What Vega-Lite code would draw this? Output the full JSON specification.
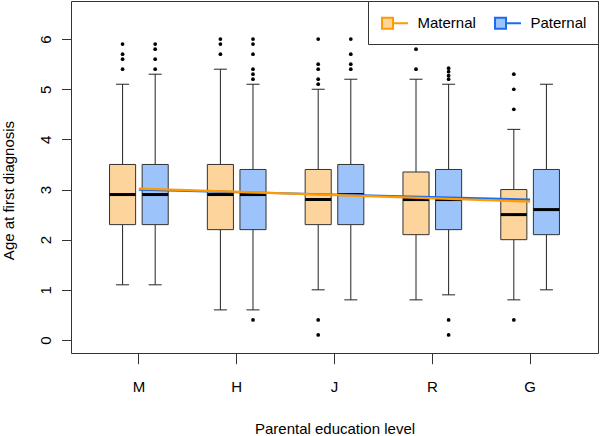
{
  "$schema": "https://vega.github.io/schema/vega-lite/v6.json",
  "width": 527,
  "height": 352,
  "autosize": {"type": "none"},
  "padding": {"left": 71, "top": 1, "right": 2, "bottom": 83},
  "background": "white",
  "config": {
    "font": "Liberation Sans",
    "view": {"stroke": "#333", "strokeWidth": 1},
    "axis": {
      "grid": false,
      "domain": false,
      "tickColor": "#333",
      "labelFontSize": 15,
      "labelColor": "black",
      "titleFontSize": 15,
      "titleFontWeight": "normal",
      "titleColor": "black"
    },
    "legend": {
      "orient": "top-right",
      "offset": 0,
      "direction": "horizontal",
      "padding": 11,
      "strokeColor": "#333",
      "fillColor": "white",
      "labelFontSize": 15,
      "labelColor": "black",
      "labelOffset": 16.5,
      "columnPadding": 15,
      "symbolType": "M-0.8,-0.55H0.3V0.55H-0.8Z M0.3,0H1.8",
      "symbolSize": 400,
      "symbolStrokeWidth": 2,
      "symbolOpacity": 1
    }
  },
  "datasets": {
    "boxes": [
      {"edu": "M", "parent": "Maternal", "lower": 1.1, "q1": 2.3, "median": 2.9, "q3": 3.5, "upper": 5.1},
      {"edu": "M", "parent": "Paternal", "lower": 1.1, "q1": 2.3, "median": 2.9, "q3": 3.5, "upper": 5.3},
      {"edu": "H", "parent": "Maternal", "lower": 0.6, "q1": 2.2, "median": 2.9, "q3": 3.5, "upper": 5.4},
      {"edu": "H", "parent": "Paternal", "lower": 0.6, "q1": 2.2, "median": 2.9, "q3": 3.4, "upper": 5.1},
      {"edu": "J", "parent": "Maternal", "lower": 1.0, "q1": 2.3, "median": 2.8, "q3": 3.4, "upper": 5.0},
      {"edu": "J", "parent": "Paternal", "lower": 0.8, "q1": 2.3, "median": 2.9, "q3": 3.5, "upper": 5.2},
      {"edu": "R", "parent": "Maternal", "lower": 0.8, "q1": 2.1, "median": 2.8, "q3": 3.35, "upper": 5.2},
      {"edu": "R", "parent": "Paternal", "lower": 0.9, "q1": 2.2, "median": 2.8, "q3": 3.4, "upper": 5.1},
      {"edu": "G", "parent": "Maternal", "lower": 0.8, "q1": 2.0, "median": 2.5, "q3": 3.0, "upper": 4.2},
      {"edu": "G", "parent": "Paternal", "lower": 1.0, "q1": 2.1, "median": 2.6, "q3": 3.4, "upper": 5.1}
    ],
    "outliers": [
      {"edu": "M", "parent": "Maternal", "value": 5.9},
      {"edu": "M", "parent": "Maternal", "value": 5.7},
      {"edu": "M", "parent": "Maternal", "value": 5.6},
      {"edu": "M", "parent": "Maternal", "value": 5.4},
      {"edu": "M", "parent": "Paternal", "value": 5.9},
      {"edu": "M", "parent": "Paternal", "value": 5.8},
      {"edu": "M", "parent": "Paternal", "value": 5.6},
      {"edu": "M", "parent": "Paternal", "value": 5.4},
      {"edu": "H", "parent": "Maternal", "value": 6.0},
      {"edu": "H", "parent": "Maternal", "value": 5.9},
      {"edu": "H", "parent": "Maternal", "value": 5.7},
      {"edu": "H", "parent": "Paternal", "value": 6.0},
      {"edu": "H", "parent": "Paternal", "value": 5.9},
      {"edu": "H", "parent": "Paternal", "value": 5.7},
      {"edu": "H", "parent": "Paternal", "value": 5.4},
      {"edu": "H", "parent": "Paternal", "value": 5.3},
      {"edu": "H", "parent": "Paternal", "value": 5.2},
      {"edu": "H", "parent": "Paternal", "value": 0.4},
      {"edu": "J", "parent": "Maternal", "value": 6.0},
      {"edu": "J", "parent": "Maternal", "value": 5.5},
      {"edu": "J", "parent": "Maternal", "value": 5.4},
      {"edu": "J", "parent": "Maternal", "value": 5.2},
      {"edu": "J", "parent": "Maternal", "value": 5.1},
      {"edu": "J", "parent": "Maternal", "value": 0.4},
      {"edu": "J", "parent": "Maternal", "value": 0.1},
      {"edu": "J", "parent": "Paternal", "value": 6.0},
      {"edu": "J", "parent": "Paternal", "value": 5.7},
      {"edu": "J", "parent": "Paternal", "value": 5.5},
      {"edu": "J", "parent": "Paternal", "value": 5.4},
      {"edu": "R", "parent": "Maternal", "value": 5.8},
      {"edu": "R", "parent": "Maternal", "value": 5.4},
      {"edu": "R", "parent": "Paternal", "value": 5.42},
      {"edu": "R", "parent": "Paternal", "value": 5.35},
      {"edu": "R", "parent": "Paternal", "value": 5.27},
      {"edu": "R", "parent": "Paternal", "value": 5.2},
      {"edu": "R", "parent": "Paternal", "value": 0.4},
      {"edu": "R", "parent": "Paternal", "value": 0.1},
      {"edu": "G", "parent": "Maternal", "value": 5.3},
      {"edu": "G", "parent": "Maternal", "value": 5.0},
      {"edu": "G", "parent": "Maternal", "value": 4.6},
      {"edu": "G", "parent": "Maternal", "value": 0.4}
    ],
    "fits": [
      {"edu": "M", "parent": "Maternal", "fit": 3.02},
      {"edu": "G", "parent": "Maternal", "fit": 2.76},
      {"edu": "M", "parent": "Paternal", "fit": 3.0},
      {"edu": "G", "parent": "Paternal", "fit": 2.8}
    ]
  },
  "encoding": {
    "x": {
      "field": "edu",
      "type": "nominal",
      "sort": ["M", "H", "J", "R", "G"],
      "scale": {"domain": ["M", "H", "J", "R", "G"], "paddingInner": 0, "paddingOuter": 0.194},
      "title": "Parental education level",
      "axis": {"labelAngle": 0, "tickSize": 10.7, "labelPadding": 15.6, "titlePadding": 27}
    }
  },
  "layer": [
    {
      "data": {"name": "boxes"},
      "mark": {"type": "rule", "color": "#222", "strokeWidth": 1},
      "encoding": {
        "xOffset": {"field": "parent", "type": "nominal", "scale": {"domain": ["Maternal", "Paternal"], "paddingInner": 0.2, "paddingOuter": 0.6}},
        "y": {
          "field": "lower",
          "type": "quantitative",
          "scale": {"domain": [-0.26, 6.76], "nice": false, "zero": false},
          "title": "Age at first diagnosis",
          "axis": {"values": [0, 1, 2, 3, 4, 5, 6], "tickSize": 9.5, "labelAngle": -90, "labelAlign": "center", "labelBaseline": "bottom", "labelPadding": 8, "titlePadding": 22, "titleY": 189}
        },
        "y2": {"field": "q1"}
      }
    },
    {
      "data": {"name": "boxes"},
      "mark": {"type": "rule", "color": "#222", "strokeWidth": 1},
      "encoding": {
        "xOffset": {"field": "parent", "type": "nominal", "scale": {"domain": ["Maternal", "Paternal"], "paddingInner": 0.2, "paddingOuter": 0.6}},
        "y": {"field": "q3", "type": "quantitative"},
        "y2": {"field": "upper"}
      }
    },
    {
      "data": {"name": "boxes"},
      "mark": {"type": "tick", "color": "#222", "size": 13, "thickness": 1, "opacity": 1},
      "encoding": {
        "xOffset": {"field": "parent", "type": "nominal", "scale": {"domain": ["Maternal", "Paternal"], "paddingInner": 0.2, "paddingOuter": 0.6}},
        "y": {"field": "lower", "type": "quantitative"}
      }
    },
    {
      "data": {"name": "boxes"},
      "mark": {"type": "tick", "color": "#222", "size": 13, "thickness": 1, "opacity": 1},
      "encoding": {
        "xOffset": {"field": "parent", "type": "nominal", "scale": {"domain": ["Maternal", "Paternal"], "paddingInner": 0.2, "paddingOuter": 0.6}},
        "y": {"field": "upper", "type": "quantitative"}
      }
    },
    {
      "data": {"name": "boxes"},
      "mark": {"type": "bar", "stroke": "#333", "strokeWidth": 1, "opacity": 1},
      "encoding": {
        "xOffset": {"field": "parent", "type": "nominal", "scale": {"domain": ["Maternal", "Paternal"], "paddingInner": 0.2, "paddingOuter": 0.6}},
        "y": {"field": "q1", "type": "quantitative"},
        "y2": {"field": "q3"},
        "fill": {"field": "parent", "type": "nominal", "title": null, "scale": {"domain": ["Maternal", "Paternal"], "range": ["#FDD59C", "#9DC3FB"]}}
      }
    },
    {
      "data": {"name": "boxes"},
      "mark": {"type": "tick", "color": "black", "size": 26, "thickness": 3, "opacity": 1},
      "encoding": {
        "xOffset": {"field": "parent", "type": "nominal", "scale": {"domain": ["Maternal", "Paternal"], "paddingInner": 0.2, "paddingOuter": 0.6}},
        "y": {"field": "median", "type": "quantitative"}
      }
    },
    {
      "data": {"name": "outliers"},
      "mark": {"type": "point", "filled": true, "color": "black", "size": 14, "opacity": 1},
      "encoding": {
        "xOffset": {"field": "parent", "type": "nominal", "scale": {"domain": ["Maternal", "Paternal"], "paddingInner": 0.2, "paddingOuter": 0.6}},
        "y": {"field": "value", "type": "quantitative"}
      }
    },
    {
      "data": {"name": "fits"},
      "transform": [{"filter": "datum.parent === 'Paternal'"}],
      "mark": {"type": "line", "strokeWidth": 2.2},
      "encoding": {
        "y": {"field": "fit", "type": "quantitative"},
        "stroke": {"field": "parent", "type": "nominal", "title": null, "scale": {"domain": ["Maternal", "Paternal"], "range": ["#FF9A00", "#1A6BF0"]}}
      }
    },
    {
      "data": {"name": "fits"},
      "transform": [{"filter": "datum.parent === 'Maternal'"}],
      "mark": {"type": "line", "strokeWidth": 2.2},
      "encoding": {
        "y": {"field": "fit", "type": "quantitative"},
        "stroke": {"field": "parent", "type": "nominal", "title": null, "scale": {"domain": ["Maternal", "Paternal"], "range": ["#FF9A00", "#1A6BF0"]}}
      }
    }
  ]
}
